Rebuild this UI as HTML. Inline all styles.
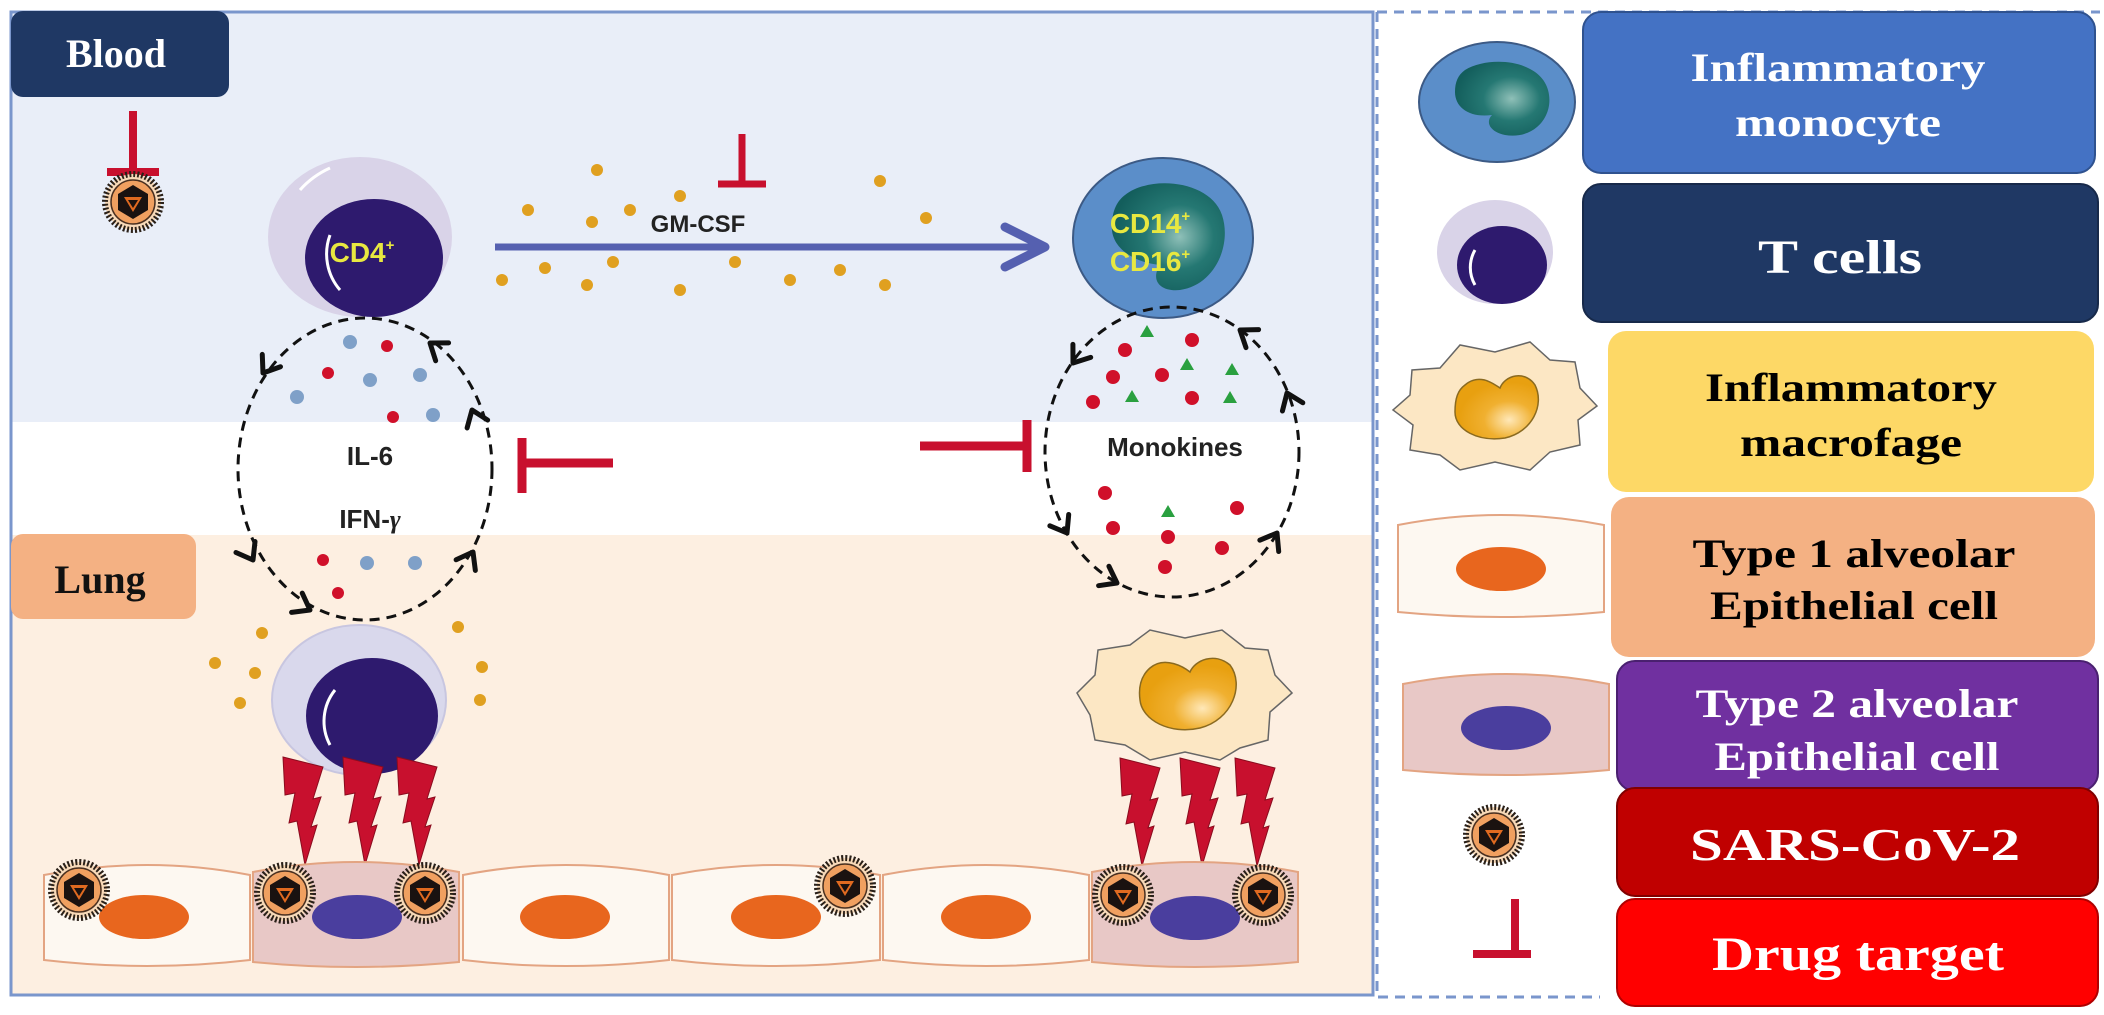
<!DOCTYPE html>
<html><head><meta charset="utf-8"><style>
html,body{margin:0;padding:0;background:#fff}
svg{display:block}
.s{font-family:"Liberation Serif",serif;font-weight:bold}
.a{font-family:"Liberation Sans",sans-serif;font-weight:bold}
</style></head><body>
<svg width="2104" height="1015" viewBox="0 0 2104 1015" xmlns="http://www.w3.org/2000/svg">
<defs>
<g id="v">
<circle r="28" fill="#f7d9b8" stroke="#2a2018" stroke-width="6" stroke-dasharray="2 2"/>
<circle r="22" fill="#f0a060" stroke="#4a3020" stroke-width="1.5"/>
<polygon points="0,-17 15,-8 15,8 0,17 -15,8 -15,-8" fill="#1a1210"/>
<polygon points="-9,-5 9,-5 0,10" fill="#e06a20"/>
<polygon points="-5,-2 5,-2 0,6" fill="#1a1210"/>
</g>
<path id="bolt" d="M0,0 L40,10 L30,42 L38,40 L28,70 L34,68 L22,108 L14,64 L6,66 L12,36 L2,38 Z" fill="#c8102e" stroke="#8a0c1e" stroke-width="1"/>
<path id="chev" d="M-15,-11 L0,0 L-15,11" fill="none" stroke="#111" stroke-width="5" stroke-linecap="round" stroke-linejoin="round"/>
<radialGradient id="mono" cx="0.6" cy="0.5" r="0.6"><stop offset="0" stop-color="#8fc0b8"/><stop offset="0.5" stop-color="#257873"/><stop offset="1" stop-color="#135e5c"/></radialGradient>
<radialGradient id="mac" cx="0.65" cy="0.7" r="0.6"><stop offset="0" stop-color="#ffe8b8"/><stop offset="0.5" stop-color="#f0b030"/><stop offset="1" stop-color="#e8a010"/></radialGradient>
</defs>

<!-- main panel backgrounds -->
<rect x="11" y="12" width="1362" height="410" fill="#e9eef8"/>
<rect x="11" y="422" width="1362" height="113" fill="#ffffff"/>
<rect x="11" y="535" width="1362" height="460" fill="#fdefe1"/>
<rect x="11" y="12" width="1362" height="983" fill="none" stroke="#7a96cc" stroke-width="3"/>

<!-- legend dashed frame -->
<path d="M1377,12 L2100,12 M1377,12 L1377,997 L1600,997" fill="none" stroke="#7a96cc" stroke-width="3" stroke-dasharray="10 7"/>

<!-- Blood / Lung labels -->
<rect x="11" y="11" width="218" height="86" rx="12" fill="#1f3864"/>
<text x="116" y="67" class="s" font-size="40" fill="#fff" text-anchor="middle">Blood</text>
<rect x="11" y="534" width="185" height="85" rx="12" fill="#f4b183"/>
<text x="100" y="593" class="s" font-size="40" fill="#111" text-anchor="middle">Lung</text>

<!-- blood inhibitor + virus -->
<path d="M133,111 L133,172 M107,172 L159,172" stroke="#c8102e" stroke-width="8" fill="none"/>
<use href="#v" x="133" y="202"/>

<!-- CD4 cell -->
<ellipse cx="360" cy="237" rx="92" ry="80" fill="#d9d3e8"/>
<path d="M300,190 A90,80 0 0 1 330,168" stroke="#fff" stroke-width="3" fill="none"/>
<ellipse cx="374" cy="258" rx="69" ry="59" fill="#2e1a6e"/>
<path d="M330,235 A55,55 0 0 0 340,290" stroke="#fff" stroke-width="3" fill="none"/>
<text x="362" y="262" class="a" font-size="28" fill="#e8e840" text-anchor="middle">CD4<tspan font-size="15" dy="-12">+</tspan></text>

<!-- GM-CSF arrow -->
<line x1="495" y1="247" x2="1040" y2="247" stroke="#5560b0" stroke-width="7"/>
<path d="M1005,227 L1045,247 L1005,267" fill="none" stroke="#5560b0" stroke-width="9" stroke-linecap="round" stroke-linejoin="round"/>
<text x="698" y="232" class="a" font-size="24" fill="#222" text-anchor="middle">GM-CSF</text>
<path d="M742,134 L742,184 M718,184 L766,184" stroke="#c8102e" stroke-width="7" fill="none"/>
<g fill="#e0a020">
<circle cx="528" cy="210" r="6"/><circle cx="597" cy="170" r="6"/><circle cx="630" cy="210" r="6"/><circle cx="592" cy="222" r="6"/>
<circle cx="613" cy="262" r="6"/><circle cx="545" cy="268" r="6"/><circle cx="502" cy="280" r="6"/><circle cx="587" cy="285" r="6"/>
<circle cx="680" cy="290" r="6"/><circle cx="735" cy="262" r="6"/><circle cx="790" cy="280" r="6"/><circle cx="840" cy="270" r="6"/>
<circle cx="885" cy="285" r="6"/><circle cx="880" cy="181" r="6"/><circle cx="926" cy="218" r="6"/><circle cx="680" cy="196" r="6"/>
</g>

<!-- Monocyte -->
<ellipse cx="1163" cy="238" rx="90" ry="80" fill="#5b8ec9" stroke="#3c5a85" stroke-width="2"/>
<path d="M1125,195 C1150,175 1210,180 1222,215 C1232,245 1215,285 1180,290 C1160,292 1150,280 1160,265 C1130,262 1110,245 1112,225 C1112,210 1118,200 1125,195 Z" fill="url(#mono)"/>
<text x="1150" y="233" class="a" font-size="28" fill="#e8e840" text-anchor="middle">CD14<tspan font-size="15" dy="-12">+</tspan></text>
<text x="1150" y="271" class="a" font-size="28" fill="#e8e840" text-anchor="middle">CD16<tspan font-size="15" dy="-12">+</tspan></text>

<!-- loops -->
<ellipse cx="365" cy="469" rx="127" ry="151" fill="none" stroke="#111" stroke-width="3" stroke-dasharray="10 7"/>
<ellipse cx="1172" cy="452" rx="127" ry="145" fill="none" stroke="#111" stroke-width="3" stroke-dasharray="10 7"/>
<g>
<use href="#chev" transform="translate(263,373) rotate(124)"/>
<use href="#chev" transform="translate(430,343) rotate(216)"/>
<use href="#chev" transform="translate(472,410) rotate(-111)"/>
<use href="#chev" transform="translate(253,560) rotate(60)"/>
<use href="#chev" transform="translate(310,610) rotate(29)"/>
<use href="#chev" transform="translate(473,552) rotate(-61)"/>
<use href="#chev" transform="translate(1073,363) rotate(126)"/>
<use href="#chev" transform="translate(1240,330) rotate(215)"/>
<use href="#chev" transform="translate(1287,393) rotate(-112)"/>
<use href="#chev" transform="translate(1067,533) rotate(59)"/>
<use href="#chev" transform="translate(1117,583) rotate(28)"/>
<use href="#chev" transform="translate(1277,533) rotate(-59)"/>
</g>
<g fill="#7fa0c8"><circle cx="350" cy="342" r="7"/><circle cx="370" cy="380" r="7"/><circle cx="420" cy="375" r="7"/><circle cx="297" cy="397" r="7"/><circle cx="433" cy="415" r="7"/><circle cx="367" cy="563" r="7"/><circle cx="415" cy="563" r="7"/></g>
<g fill="#d0102a"><circle cx="387" cy="346" r="6"/><circle cx="328" cy="373" r="6"/><circle cx="393" cy="417" r="6"/><circle cx="323" cy="560" r="6"/><circle cx="338" cy="593" r="6"/></g>
<text x="370" y="465" class="a" font-size="26" fill="#222" text-anchor="middle">IL-6</text>
<text x="370" y="528" class="a" font-size="26" fill="#222" text-anchor="middle">IFN-<tspan font-family="Liberation Serif" font-style="italic">γ</tspan></text>

<g fill="#d0102a"><circle cx="1192" cy="340" r="7"/><circle cx="1125" cy="350" r="7"/><circle cx="1113" cy="377" r="7"/><circle cx="1162" cy="375" r="7"/><circle cx="1093" cy="402" r="7"/><circle cx="1192" cy="398" r="7"/><circle cx="1105" cy="493" r="7"/><circle cx="1237" cy="508" r="7"/><circle cx="1113" cy="528" r="7"/><circle cx="1168" cy="537" r="7"/><circle cx="1222" cy="548" r="7"/><circle cx="1165" cy="567" r="7"/></g>
<g fill="#2aa040"><polygon points="1147,325 1154,337 1140,337"/><polygon points="1187,358 1194,370 1180,370"/><polygon points="1232,363 1239,375 1225,375"/><polygon points="1132,390 1139,402 1125,402"/><polygon points="1230,391 1237,403 1223,403"/><polygon points="1168,505 1175,517 1161,517"/></g>
<text x="1175" y="456" class="a" font-size="26" fill="#222" text-anchor="middle">Monokines</text>

<!-- mid inhibitors -->
<path d="M522,438 L522,493 M522,463 L613,463" stroke="#c8102e" stroke-width="9" fill="none"/>
<path d="M1027,420 L1027,472 M920,446 L1027,446" stroke="#c8102e" stroke-width="9" fill="none"/>

<!-- lung T cell -->
<g fill="#e0a020"><circle cx="262" cy="633" r="6"/><circle cx="215" cy="663" r="6"/><circle cx="255" cy="673" r="6"/><circle cx="240" cy="703" r="6"/><circle cx="458" cy="627" r="6"/><circle cx="482" cy="667" r="6"/><circle cx="480" cy="700" r="6"/></g>
<ellipse cx="359" cy="700" rx="87" ry="75" fill="#d9d8ec" stroke="#c8c6e0" stroke-width="2"/>
<ellipse cx="372" cy="716" rx="66" ry="58" fill="#2e1a6e"/>
<path d="M335,690 A50,50 0 0 0 330,745" stroke="#fff" stroke-width="3" fill="none"/>

<!-- macrophage -->
<polygon points="1292,693 1270,712 1268,740 1240,748 1220,760 1185,752 1150,760 1125,745 1095,740 1090,715 1077,693 1095,675 1098,650 1130,645 1150,630 1185,638 1222,630 1245,648 1268,650 1275,675" fill="#fce7c4" stroke="#666" stroke-width="1.5"/>
<path d="M1150,668 C1165,655 1185,668 1190,672 C1195,660 1215,652 1230,665 C1245,685 1232,720 1200,728 C1170,735 1142,720 1140,700 C1138,685 1142,675 1150,668 Z" fill="url(#mac)" stroke="#8a6a20" stroke-width="1.5"/>

<!-- bolts -->
<use href="#bolt" x="283" y="757"/><use href="#bolt" x="343" y="757"/><use href="#bolt" x="397" y="757"/>
<use href="#bolt" x="1120" y="758"/><use href="#bolt" x="1180" y="758"/><use href="#bolt" x="1235" y="758"/>

<!-- epithelial cells -->
<g stroke="#e3a482" stroke-width="2">
<path d="M44,875 Q147,855 250,875 L250,960 Q147,972 44,960 Z" fill="#fdf8f1"/>
<path d="M253,872 Q356,852 459,872 L459,962 Q356,972 253,962 Z" fill="#e8c8c6"/>
<path d="M463,875 Q566,855 669,875 L669,960 Q566,972 463,960 Z" fill="#fdf8f1"/>
<path d="M672,875 Q776,855 880,875 L880,960 Q776,972 672,960 Z" fill="#fdf8f1"/>
<path d="M883,875 Q986,855 1089,875 L1089,960 Q986,972 883,960 Z" fill="#fdf8f1"/>
<path d="M1092,872 Q1195,852 1298,872 L1298,962 Q1195,972 1092,962 Z" fill="#e8c8c6"/>
</g>
<g fill="#e8661e"><ellipse cx="144" cy="917" rx="45" ry="22"/><ellipse cx="565" cy="917" rx="45" ry="22"/><ellipse cx="776" cy="917" rx="45" ry="22"/><ellipse cx="986" cy="917" rx="45" ry="22"/></g>
<g fill="#4a3e9e"><ellipse cx="357" cy="917" rx="45" ry="22"/><ellipse cx="1195" cy="918" rx="45" ry="22"/></g>
<use href="#v" x="79" y="890"/><use href="#v" x="285" y="893"/><use href="#v" x="425" y="893"/>
<use href="#v" x="845" y="886"/><use href="#v" x="1123" y="895"/><use href="#v" x="1263" y="895"/>

<!-- legend boxes -->
<rect x="1583" y="12" width="512" height="161" rx="18" fill="#4472c4" stroke="#2f528f" stroke-width="2"/>
<rect x="1583" y="184" width="515" height="138" rx="18" fill="#1f3864" stroke="#17294a" stroke-width="2"/>
<rect x="1608" y="331" width="486" height="161" rx="18" fill="#fdd866"/>
<rect x="1611" y="497" width="484" height="160" rx="18" fill="#f4b183"/>
<rect x="1617" y="661" width="481" height="130" rx="18" fill="#7030a0" stroke="#4a2070" stroke-width="2"/>
<rect x="1617" y="788" width="481" height="108" rx="18" fill="#c00000" stroke="#800000" stroke-width="2"/>
<rect x="1617" y="899" width="481" height="107" rx="18" fill="#ff0000" stroke="#b00000" stroke-width="2"/>

<text x="1838" y="81" class="s" font-size="40" fill="#fff" text-anchor="middle" textLength="295" lengthAdjust="spacingAndGlyphs">Inflammatory</text>
<text x="1838" y="136" class="s" font-size="40" fill="#fff" text-anchor="middle" textLength="206" lengthAdjust="spacingAndGlyphs">monocyte</text>
<text x="1840" y="273" class="s" font-size="48" fill="#fff" text-anchor="middle" textLength="164" lengthAdjust="spacingAndGlyphs">T cells</text>
<text x="1851" y="401" class="s" font-size="40" fill="#000" text-anchor="middle" textLength="292" lengthAdjust="spacingAndGlyphs">Inflammatory</text>
<text x="1851" y="456" class="s" font-size="40" fill="#000" text-anchor="middle" textLength="222" lengthAdjust="spacingAndGlyphs">macrofage</text>
<text x="1854" y="567" class="s" font-size="40" fill="#000" text-anchor="middle" textLength="323" lengthAdjust="spacingAndGlyphs">Type 1 alveolar</text>
<text x="1854" y="619" class="s" font-size="40" fill="#000" text-anchor="middle" textLength="288" lengthAdjust="spacingAndGlyphs">Epithelial cell</text>
<text x="1857" y="717" class="s" font-size="40" fill="#fff" text-anchor="middle" textLength="323" lengthAdjust="spacingAndGlyphs">Type 2 alveolar</text>
<text x="1857" y="770" class="s" font-size="40" fill="#fff" text-anchor="middle" textLength="285" lengthAdjust="spacingAndGlyphs">Epithelial cell</text>
<text x="1855" y="860" class="s" font-size="46" fill="#fff" text-anchor="middle" textLength="330" lengthAdjust="spacingAndGlyphs">SARS-CoV-2</text>
<text x="1858" y="970" class="s" font-size="48" fill="#fff" text-anchor="middle" textLength="292" lengthAdjust="spacingAndGlyphs">Drug target</text>

<!-- legend icons -->
<ellipse cx="1497" cy="102" rx="78" ry="60" fill="#5b8ec9" stroke="#3c5a85" stroke-width="2"/>
<path d="M1465,70 C1490,55 1540,60 1548,90 C1555,115 1535,140 1505,135 C1490,132 1485,122 1492,115 C1470,118 1455,108 1455,92 C1455,82 1458,75 1465,70 Z" fill="url(#mono)"/>
<ellipse cx="1495" cy="252" rx="58" ry="52" fill="#d9d3e8"/>
<ellipse cx="1502" cy="265" rx="45" ry="39" fill="#2e1a6e"/>
<path d="M1475,250 A35,35 0 0 0 1475,285" stroke="#fff" stroke-width="3" fill="none"/>
<polygon points="1597,406 1578,420 1580,445 1550,452 1530,470 1495,462 1460,470 1440,455 1410,450 1413,425 1393,410 1410,395 1412,370 1440,368 1460,345 1495,352 1530,342 1550,360 1575,362 1580,388" fill="#fce7c4" stroke="#666" stroke-width="1.5"/>
<path d="M1465,385 C1480,372 1495,385 1500,388 C1505,375 1525,370 1535,385 C1545,405 1532,432 1505,438 C1478,442 1455,430 1455,412 C1455,398 1458,390 1465,385 Z" fill="url(#mac)" stroke="#8a6a20" stroke-width="1.5"/>
<path d="M1398,525 Q1501,505 1604,525 L1604,612 Q1501,622 1398,612 Z" fill="#fdf8f1" stroke="#e3a482" stroke-width="2"/>
<ellipse cx="1501" cy="569" rx="45" ry="22" fill="#e8661e"/>
<path d="M1403,684 Q1506,664 1609,684 L1609,770 Q1506,780 1403,770 Z" fill="#e8c8c6" stroke="#e3a482" stroke-width="2"/>
<ellipse cx="1506" cy="728" rx="45" ry="22" fill="#4a3e9e"/>
<use href="#v" x="1494" y="835"/>
<path d="M1515,899 L1515,954 M1473,954 L1531,954" stroke="#c8102e" stroke-width="8" fill="none"/>
</svg>
</body></html>
